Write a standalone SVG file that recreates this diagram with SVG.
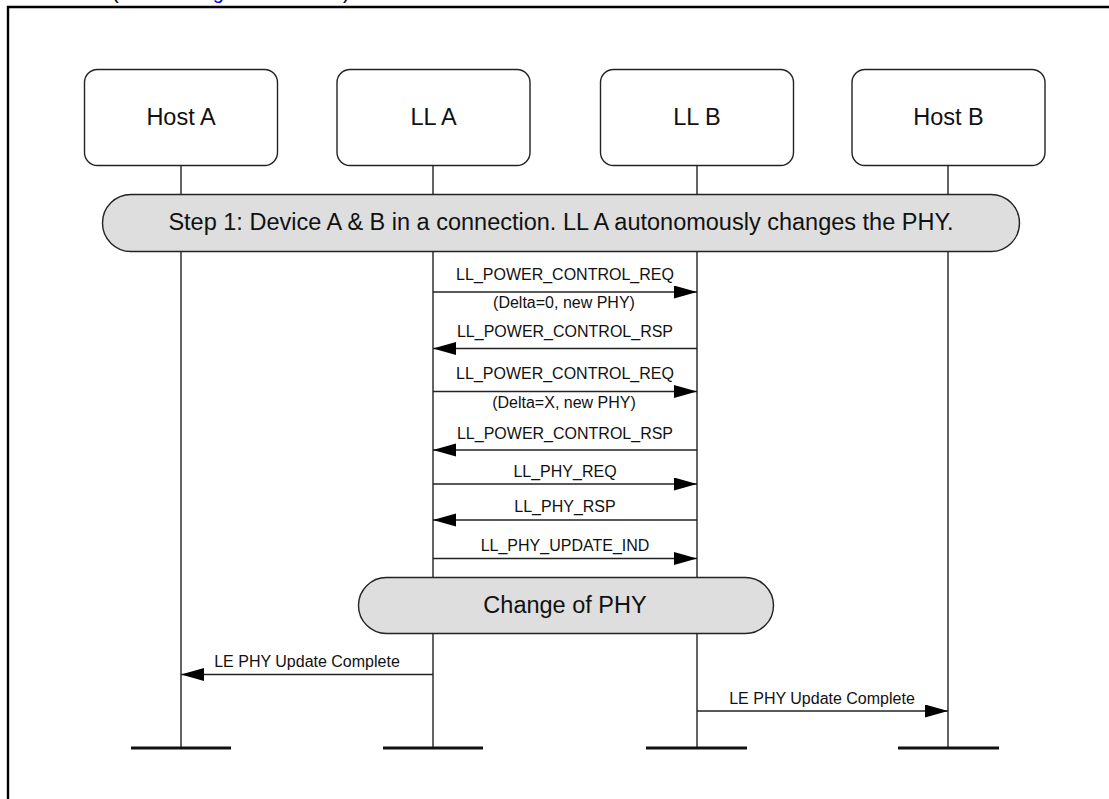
<svg xmlns="http://www.w3.org/2000/svg" width="1109" height="799" viewBox="0 0 1109 799">
<style>
.box{fill:#fff;stroke:#222;stroke-width:1.4}
.bar{fill:#dedede;stroke:#222;stroke-width:1.4}
.life{stroke:#222;stroke-width:1.4;fill:none}
.foot{stroke:#111;stroke-width:3}
.msg{stroke:#222;stroke-width:1.4;fill:none;marker-end:url(#ah)}
.big{font-family:"Liberation Sans",Arial,sans-serif;font-size:23.5px;fill:#111;text-anchor:middle}
.sm{font-family:"Liberation Sans",Arial,sans-serif;font-size:16px;fill:#111;text-anchor:middle}
</style>
<defs>
<marker id="ah" markerUnits="userSpaceOnUse" markerWidth="24" markerHeight="14" refX="23" refY="6.5" orient="auto">
<path d="M0,0 L23,6.5 L0,13 z" fill="#000"/>
</marker>
</defs>
<rect width="1109" height="799" fill="#fff"/>
<text x="112" y="-1" font-family="Liberation Sans,Arial,sans-serif" font-size="20" fill="#000">(<tspan x="196" fill="#0000ee">Figure</tspan><tspan x="343">)</tspan></text>
<path d="M8,799 L8,7 L1109,7" fill="none" stroke="#000" stroke-width="2.4"/>
<g id="lifelines">
<line class="life" x1="181" y1="165" x2="181" y2="748"/>
<line class="life" x1="433" y1="165" x2="433" y2="748"/>
<line class="life" x1="697" y1="165" x2="697" y2="748"/>
<line class="life" x1="948" y1="165" x2="948" y2="748"/>
<line class="foot" x1="131" y1="748" x2="231" y2="748"/>
<line class="foot" x1="383" y1="748" x2="483" y2="748"/>
<line class="foot" x1="646" y1="748" x2="747" y2="748"/>
<line class="foot" x1="898" y1="748" x2="999" y2="748"/>
</g>
<g id="hostA"><rect class="box" x="84.5" y="69.5" width="193" height="96" rx="13"/><text class="big" x="181" y="125">Host A</text></g>
<g id="llA"><rect class="box" x="337" y="69.5" width="193" height="96" rx="13"/><text class="big" x="433.5" y="125">LL A</text></g>
<g id="llB"><rect class="box" x="600.5" y="69.5" width="193" height="96" rx="13"/><text class="big" x="697" y="125">LL B</text></g>
<g id="hostB"><rect class="box" x="852" y="69.5" width="193" height="96" rx="13"/><text class="big" x="948.5" y="125">Host B</text></g>
<g id="step1"><rect class="bar" x="102.5" y="194.5" width="917" height="57" rx="28.5"/><text class="big" x="561" y="229.5">Step 1: Device A &amp; B in a connection. LL A autonomously changes the PHY.</text></g>
<g id="changePHY"><rect class="bar" x="358.5" y="577.5" width="415" height="56" rx="28"/><text class="big" x="565" y="613">Change of PHY</text></g>
<g id="connectors">
<line class="msg" x1="433" y1="292" x2="697" y2="292"/>
<text class="sm" x="565" y="280">LL_POWER_CONTROL_REQ</text>
<text class="sm" x="564" y="308">(Delta=0, new PHY)</text>
<line class="msg" x1="697" y1="348.5" x2="433" y2="348.5"/>
<text class="sm" x="565" y="337">LL_POWER_CONTROL_RSP</text>
<line class="msg" x1="433" y1="391.5" x2="697" y2="391.5"/>
<text class="sm" x="565" y="379">LL_POWER_CONTROL_REQ</text>
<text class="sm" x="564" y="408">(Delta=X, new PHY)</text>
<line class="msg" x1="697" y1="450" x2="433" y2="450"/>
<text class="sm" x="565" y="439">LL_POWER_CONTROL_RSP</text>
<line class="msg" x1="433" y1="484" x2="697" y2="484"/>
<text class="sm" x="565" y="477">LL_PHY_REQ</text>
<line class="msg" x1="697" y1="520" x2="433" y2="520"/>
<text class="sm" x="565" y="512">LL_PHY_RSP</text>
<line class="msg" x1="433" y1="558.5" x2="697" y2="558.5"/>
<text class="sm" x="565" y="551">LL_PHY_UPDATE_IND</text>
<line class="msg" x1="433" y1="674.5" x2="181" y2="674.5"/>
<text class="sm" x="307" y="667">LE PHY Update Complete</text>
<line class="msg" x1="697" y1="711" x2="948" y2="711"/>
<text class="sm" x="822" y="704">LE PHY Update Complete</text>
</g>
</svg>
